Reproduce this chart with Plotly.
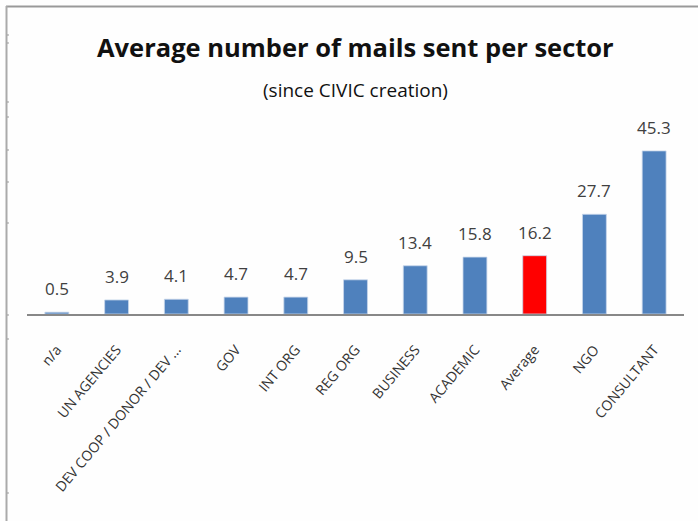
import plotly.graph_objects as go

categories = ["n/a", "UN AGENCIES", "DEV COOP / DONOR / DEV ...", "GOV", "INT ORG",
              "REG ORG", "BUSINESS", "ACADEMIC", "Average", "NGO", "CONSULTANT"]
values = [0.5, 3.9, 4.1, 4.7, 4.7, 9.5, 13.4, 15.8, 16.2, 27.7, 45.3]
value_labels = ["0.5", "3.9", "4.1", "4.7", "4.7", "9.5", "13.4", "15.8", "16.2", "27.7", "45.3"]
highlight = "Average"

W, H = 698, 521
ML, MR = 27, 14
PLOT_TOP, PLOT_BOTTOM = 134, 314
MT, MB = PLOT_TOP, H - PLOT_BOTTOM

colors = ["#FF0000" if c == highlight else "#4F81BD" for c in categories]

fig = go.Figure(go.Bar(
    x=categories, y=values,
    marker=dict(color=colors, line=dict(color="rgba(200,215,235,0.8)", width=1)),
    cliponaxis=False,
    width=0.4,
    hoverinfo="x+y",
))

pw = W - ML - MR
ph = H - MT - MB
def px_x(x):
    return (x - ML) / pw
def px_y(y):
    return (H - MB - y) / ph

shapes = [
    dict(type="line", xref="paper", yref="paper", x0=px_x(6), x1=px_x(698), y0=px_y(6.5), y1=px_y(6.5),
         line=dict(color="#999999", width=2)),
    dict(type="line", xref="paper", yref="paper", x0=px_x(6.5), x1=px_x(6.5), y0=px_y(6), y1=px_y(521),
         line=dict(color="#AAAAAA", width=2)),
]
for ty in [35, 43, 102, 117, 150, 182, 223, 315, 339, 493]:
    shapes.append(dict(type="line", xref="paper", yref="paper", x0=px_x(7), x1=px_x(9),
                       y0=px_y(ty), y1=px_y(ty), line=dict(color="#999999", width=1)))

annotations = [
    dict(text="<b>Average number of mails sent per sector</b>", xref="paper", yref="paper",
         x=px_x(355), y=px_y(47), xanchor="center", yanchor="middle", showarrow=False,
         font=dict(family="Open Sans", size=25.5, color="#111111")),
    dict(text="(since CIVIC creation)", xref="paper", yref="paper",
         x=px_x(355), y=px_y(90), xanchor="center", yanchor="middle", showarrow=False,
         font=dict(family="Open Sans", size=19, color="#111111")),
]
for c, v, lab in zip(categories, values, value_labels):
    annotations.append(dict(text=lab, x=c, y=v, xref="x", yref="y", yanchor="bottom",
                            xanchor="center", yshift=10, showarrow=False,
                            font=dict(family="Open Sans", size=17, color="#404040")))

fig.update_layout(
    width=W, height=H,
    margin=dict(l=ML, r=MR, t=MT, b=MB, autoexpand=False),
    paper_bgcolor="#FEFEFE", plot_bgcolor="#FEFEFE",
    showlegend=False,
    bargap=0.6,
    xaxis=dict(tickangle=-50, showline=True, linecolor="#888888", linewidth=2,
               ticks="", showgrid=False, automargin=False, ticklabelstandoff=20,
               tickfont=dict(family="Open Sans", size=14, color="#333333")),
    yaxis=dict(range=[0, 50], visible=False, showgrid=False, zeroline=False),
    shapes=shapes,
    annotations=annotations,
)

fig.write_html("out.html", config={"displayModeBar": False},
               post_script="document.body.style.margin='0';")
